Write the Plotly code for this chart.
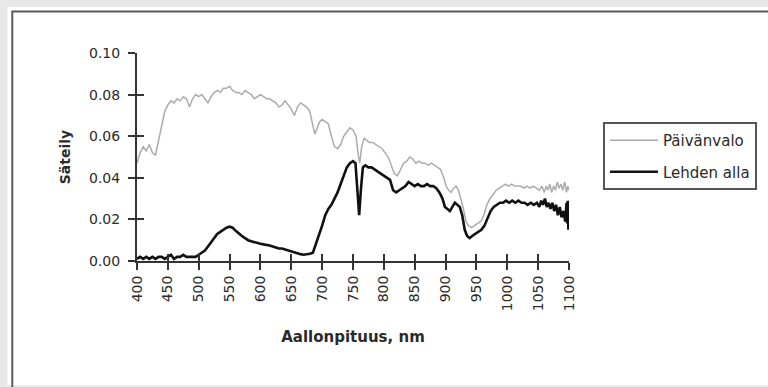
import plotly.graph_objects as go

# ---- data ----
wl_day = [400, 405, 410, 415, 420, 425, 430, 435, 440, 445, 450, 455, 460, 465, 470, 475, 480, 485, 490, 495,
          500, 505, 510, 515, 520, 525, 530, 535, 540, 545, 550, 555, 560, 565, 570, 575, 580, 585, 590, 595,
          600, 605, 610, 615, 620, 625, 630, 635, 640, 645, 650, 655, 660, 665, 670, 675, 680, 685, 688, 692,
          696, 700, 705, 710, 715, 720, 725, 730, 735, 740, 745, 750, 755, 758, 761, 764, 768, 772, 777, 782,
          787, 792, 797, 802, 807, 812, 817, 822, 827, 832, 837, 842, 847, 852, 857, 862, 867, 872, 877, 882,
          887, 892, 897, 901, 905, 909, 913, 917, 921, 925, 929, 933, 937, 942, 947, 952, 957, 962, 967, 972,
          977, 982, 987, 992, 997, 1002, 1007, 1012, 1017, 1022, 1027, 1032, 1037, 1042, 1047, 1052, 1056, 1060,
          1063, 1066, 1069, 1072, 1075, 1078, 1081, 1084, 1087, 1090, 1093, 1096, 1098, 1100]
paivanvalo = [0.047, 0.052, 0.055, 0.053, 0.056, 0.052, 0.051, 0.058, 0.066, 0.072, 0.075, 0.077, 0.076, 0.078,
              0.077, 0.079, 0.078, 0.074, 0.078, 0.080, 0.079, 0.080, 0.078, 0.076, 0.079, 0.081, 0.082, 0.081,
              0.083, 0.083, 0.084, 0.082, 0.081, 0.081, 0.080, 0.082, 0.081, 0.080, 0.078, 0.079, 0.080, 0.079,
              0.078, 0.078, 0.077, 0.076, 0.074, 0.075, 0.077, 0.075, 0.073, 0.070, 0.074, 0.076, 0.075, 0.074,
              0.072, 0.066, 0.061, 0.064, 0.067, 0.068, 0.067, 0.066, 0.060, 0.055, 0.054, 0.056, 0.060, 0.062,
              0.064, 0.063, 0.060, 0.052, 0.047, 0.055, 0.059, 0.058, 0.057, 0.057, 0.056, 0.055, 0.054, 0.052,
              0.050, 0.046, 0.042, 0.041, 0.044, 0.047, 0.048, 0.050, 0.049, 0.047, 0.048, 0.047, 0.047, 0.046,
              0.047, 0.046, 0.045, 0.044, 0.040, 0.036, 0.034, 0.033, 0.035, 0.036, 0.034, 0.030, 0.025, 0.019,
              0.017, 0.016, 0.017, 0.018, 0.019, 0.022, 0.027, 0.030, 0.032, 0.034, 0.035, 0.036, 0.037, 0.036,
              0.037, 0.036, 0.036, 0.036, 0.035, 0.036, 0.035, 0.036, 0.035, 0.034, 0.036, 0.033, 0.036, 0.034,
              0.037, 0.033, 0.036, 0.034, 0.038, 0.035, 0.037, 0.034, 0.038, 0.033, 0.036, 0.034]

wl_leaf = [400, 405, 410, 415, 420, 425, 430, 435, 440, 445, 450, 455, 460, 465, 470, 475, 480, 485, 490, 495,
           500, 505, 510, 515, 520, 525, 530, 535, 540, 545, 550, 555, 560, 565, 570, 575, 580, 585, 590, 595,
           600, 605, 610, 615, 620, 625, 630, 635, 640, 645, 650, 655, 660, 665, 670, 675, 680, 685, 690, 695,
           700, 705, 710, 715, 720, 725, 730, 735, 740, 745, 750, 754, 757, 760, 763, 766, 770, 775, 780, 785,
           790, 795, 800, 805, 810, 815, 820, 825, 830, 835, 840, 845, 850, 855, 860, 865, 870, 875, 880, 885,
           890, 895, 899, 903, 907, 911, 915, 919, 923, 927, 931, 935, 939, 943, 948, 953, 958, 963, 968, 973,
           978, 983, 988, 993, 998, 1003, 1008, 1013, 1018, 1023, 1028, 1033, 1038, 1043, 1048, 1052, 1055, 1058,
           1061, 1064, 1067, 1070, 1073, 1076, 1079, 1082, 1085, 1088, 1091, 1094, 1096, 1097, 1098, 1099, 1100]
lehden_alla = [0.001, 0.002, 0.001, 0.002, 0.001, 0.002, 0.001, 0.002, 0.002, 0.001, 0.002, 0.003, 0.001, 0.002,
               0.002, 0.003, 0.002, 0.002, 0.002, 0.002, 0.003, 0.004, 0.005, 0.007, 0.009, 0.011, 0.013, 0.014,
               0.015, 0.016, 0.0165, 0.016, 0.0145, 0.013, 0.012, 0.011, 0.010, 0.0095, 0.009, 0.0085, 0.0083,
               0.008, 0.0078, 0.0075, 0.007, 0.0065, 0.006, 0.006, 0.0055, 0.005, 0.0045, 0.004, 0.0037, 0.0033,
               0.003, 0.0032, 0.0035, 0.004, 0.008, 0.012, 0.017, 0.022, 0.025, 0.027, 0.030, 0.033, 0.037, 0.041,
               0.045, 0.047, 0.048, 0.047, 0.035, 0.022, 0.035, 0.045, 0.046, 0.045, 0.045, 0.044, 0.043, 0.042,
               0.041, 0.040, 0.039, 0.034, 0.033, 0.034, 0.035, 0.036, 0.038, 0.037, 0.036, 0.037, 0.036, 0.036,
               0.037, 0.036, 0.036, 0.035, 0.033, 0.030, 0.026, 0.025, 0.024, 0.026, 0.028, 0.027, 0.026, 0.022,
               0.015, 0.012, 0.011, 0.012, 0.013, 0.014, 0.015, 0.017, 0.021, 0.024, 0.026, 0.027, 0.028, 0.028,
               0.029, 0.028, 0.029, 0.028, 0.029, 0.028, 0.028, 0.027, 0.028, 0.027, 0.028, 0.026, 0.029, 0.027,
               0.030, 0.026, 0.028, 0.025, 0.028, 0.024, 0.027, 0.022, 0.026, 0.021, 0.024, 0.019, 0.028, 0.018,
               0.029, 0.015, 0.022]

x_ticks = list(range(400, 1101, 50))
y_ticks = [0.00, 0.02, 0.04, 0.06, 0.08, 0.10]

# ---- layout geometry ----
W, H = 768, 387
L, R, T, B = 137, 198, 53, 126
PW, PH = W - L - R, H - T - B


def px_x(px):
    return (px - L) / PW


def px_y(py):
    return (H - B - py) / PH


FONT = "DejaVu Sans, Verdana, sans-serif"
TXT = "#2a2a2a"
AX = "#333333"

fig = go.Figure()
fig.add_trace(go.Scatter(x=wl_day, y=paivanvalo, mode="lines", name="Päivänvalo",
                         legendgroup="a", line=dict(color="#ababab", width=1.5)))
fig.add_trace(go.Scatter(x=wl_leaf, y=lehden_alla, mode="lines", name="Lehden alla",
                         legendgroup="b", line=dict(color="#111111", width=2.6)))
# placeholder trace (no visible points) so the overlay axes carrying the inner half of the
# crossing tick marks are drawn
fig.add_trace(go.Scatter(x=[None], y=[None], xaxis="x2", yaxis="y2", mode="lines",
                         showlegend=False, hoverinfo="skip"))

fig.update_layout(
    width=W, height=H,
    margin=dict(l=L, r=R, t=T, b=B),
    paper_bgcolor="#e8e8e8",
    plot_bgcolor="rgba(0,0,0,0)",
    font=dict(family=FONT, color=TXT, size=14),
    xaxis=dict(range=[400, 1100], tickvals=x_ticks, ticktext=[str(v) for v in x_ticks],
               tickangle=-90, ticks="outside", ticklen=7, tickwidth=1.5, tickcolor=AX,
               showline=True, linecolor=AX, linewidth=2, showgrid=False, zeroline=False,
               tickfont=dict(size=14, family=FONT, color=TXT), ticklabelstandoff=0,
               title=dict(text="<b>Aallonpituus, nm</b>", font=dict(size=15, family=FONT, color=TXT),
                          standoff=21),
               automargin=False),
    yaxis=dict(range=[0, 0.10], tickvals=y_ticks, tickformat=".2f",
               ticks="outside", ticklen=7, tickwidth=1.5, tickcolor=AX,
               showline=True, linecolor=AX, linewidth=2, showgrid=False, zeroline=False,
               tickfont=dict(size=14, family=FONT, color=TXT), ticklabelstandoff=5,
               title=dict(text="<b>Säteily</b>", font=dict(size=14, family=FONT, color=TXT),
                          standoff=15),
               automargin=False),
    xaxis2=dict(overlaying="x", anchor="y2", range=[400, 1100], tickvals=x_ticks,
                ticks="inside", ticklen=7, tickwidth=1.5, tickcolor=AX, showticklabels=False,
                showline=False, showgrid=False, zeroline=False, side="bottom", visible=True),
    yaxis2=dict(overlaying="y", anchor="x2", range=[0, 0.10], tickvals=y_ticks,
                ticks="inside", ticklen=7, tickwidth=1.5, tickcolor=AX, showticklabels=False,
                showline=False, showgrid=False, zeroline=False, side="left", visible=True),
    legend=dict(x=px_x(603), y=px_y(122), xanchor="left", yanchor="top",
                bgcolor="#ffffff", bordercolor="#555555", borderwidth=2,
                font=dict(size=15, family=FONT, color=TXT), tracegroupgap=9,
                itemwidth=48),
    showlegend=True,
    shapes=[
        dict(type="rect", xref="paper", yref="paper", layer="below",
             x0=px_x(7), x1=px_x(800), y0=px_y(385), y1=px_y(7),
             fillcolor="#ffffff", line=dict(width=0)),
        dict(type="rect", xref="paper", yref="paper", layer="below",
             x0=px_x(12), x1=px_x(820), y0=px_y(420), y1=px_y(11.5),
             fillcolor="rgba(0,0,0,0)", line=dict(color="#5a5a5a", width=2)),
    ],
)

fig.write_html("out.html")
